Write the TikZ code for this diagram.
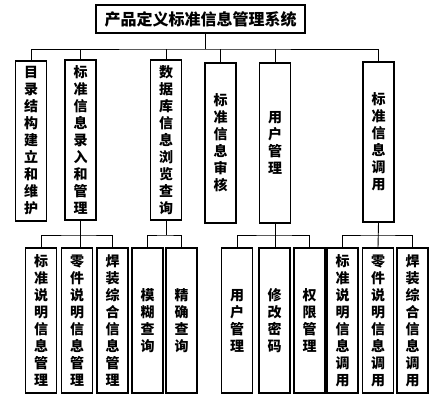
\documentclass[tikz,border=0pt]{standalone}
\usepackage{fontspec}
\newfontfamily\cjk{Noto Sans CJK SC}
\tikzset{
  sysbox/.style={draw,line width=1.1pt,inner sep=0pt,font={\cjk\bfseries\fontsize{16}{18}\selectfont},minimum width=209,minimum height=28},
  modbox/.style={draw,line width=1.1pt,inner sep=0pt,align=center,font={\cjk\bfseries\fontsize{14}{17}\selectfont},minimum width=31,minimum height=160},
  subbox/.style={modbox,minimum height=145},
  link/.style={line width=0.9pt}
}

\begin{document}
\begin{tikzpicture}[x=1pt,y=-1pt]
        \useasboundingbox (0,0) rectangle (446,404);
        \node[sysbox] (sys) at (200.5,19) {产品定义标准信息管理系统};
        \node[modbox] (mulu) at (31,141) {目\\录\\结\\构\\建\\立\\和\\维\\护};
        \node[modbox] (luru) at (80.5,140) {标\\准\\信\\息\\录\\入\\和\\管\\理};
        \node[modbox] (liulan) at (166,140) {数\\据\\库\\信\\息\\浏\\览\\查\\询};
        \node[modbox] (shenhe) at (220.5,143) {标\\准\\信\\息\\审\\核};
        \node[modbox] (yonghu) at (275,143) {用\\户\\管\\理};
        \node[modbox] (diaoyong) at (378.5,142) {标\\准\\信\\息\\调\\用};
        \node[subbox] (bzgl) at (41,320.5) {标\\准\\说\\明\\信\\息\\管\\理};
        \node[subbox] (ljgl) at (77,320.5) {零\\件\\说\\明\\信\\息\\管\\理};
        \node[subbox] (hzgl) at (112.5,320.5) {焊\\装\\综\\合\\信\\息\\管\\理};
        \node[subbox] (mohu) at (147.5,320.5) {模\\糊\\查\\询};
        \node[subbox] (jingque) at (181.5,320.5) {精\\确\\查\\询};
        \node[subbox] (yhgl) at (237,320.5) {用\\户\\管\\理};
        \node[subbox] (mima) at (274.5,320.5) {修\\改\\密\\码};
        \node[subbox] (quanxian) at (309.5,320.5) {权\\限\\管\\理};
        \node[subbox] (bzdy) at (342.5,320.5) {标\\准\\说\\明\\信\\息\\调\\用};
        \node[subbox] (ljdy) at (378,320.5) {零\\件\\说\\明\\信\\息\\调\\用};
        \node[subbox] (hzdy) at (412.5,320.5) {焊\\装\\综\\合\\信\\息\\调\\用};
        \coordinate (bus) at (205,49);
        \coordinate (jluru) at (80.5,235);
        \coordinate (jliulan) at (166,235);
        \coordinate (jyonghu) at (275,235);
        \coordinate (jdiaoyong) at (378.5,235);
        \draw[link] (sys.south -| bus) -- (bus);
        \draw[link] (mulu.north) |- (bus) -| (diaoyong.north);
        \draw[link] (bus -| luru.north) -- (luru.north);
        \draw[link] (bus -| liulan.north) -- (liulan.north);
        \draw[link] (bus -| shenhe.north) -- (shenhe.north);
        \draw[link] (bus -| yonghu.north) -- (yonghu.north);
        \draw[link] (luru.south) -- (luru.south |- ljgl.north);
        \draw[link] (bzgl.north) |- (jluru) -| (hzgl.north);
        \draw[link] (liulan.south) -- (jliulan);
        \draw[link] (mohu.north) |- (jliulan) -| (jingque.north);
        \draw[link] (yonghu.south) -- (yonghu.south |- mima.north);
        \draw[link] (yhgl.north) |- (jyonghu) -| (quanxian.north);
        \draw[link] (diaoyong.south) -- (ljdy.north);
        \draw[link] (bzdy.north) |- (jdiaoyong) -| (hzdy.north);
\end{tikzpicture}
\end{document}
